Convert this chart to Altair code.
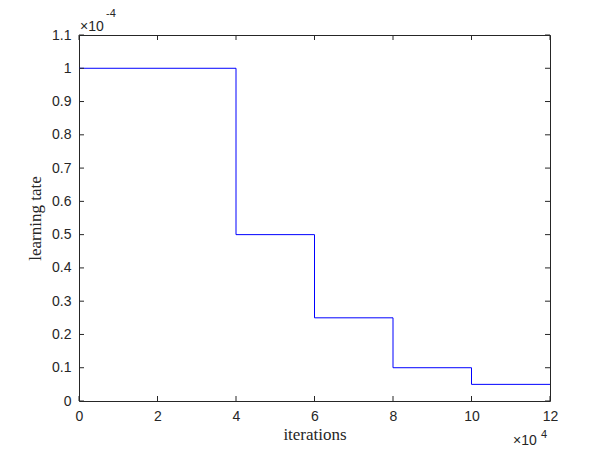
import altair as alt
import pandas as pd

# data (x in units of 1e4 iterations, y in units of 1e-4)
iterations = [0, 4, 6, 8, 10, 12]
learning_rate = [1.0, 0.5, 0.25, 0.1, 0.05, 0.05]
x_ticks = [0, 2, 4, 6, 8, 10, 12]
y_ticks = [0, 0.1, 0.2, 0.3, 0.4, 0.5, 0.6, 0.7, 0.8, 0.9, 1.0, 1.1]
x_title = "iterations"
y_title = "learning tate"
exp_base = "×10"
y_exp = "-4"
x_exp = "4"

W, H = 471, 366
TICK = 5
AX = "#262626"
FONT = "Liberation Sans"
SERIF = "Liberation Serif"

df = pd.DataFrame({"it": iterations, "lr": learning_rate})
xs = alt.Scale(domain=[0, 12], nice=False, zero=False)
ys = alt.Scale(domain=[0, 1.1], nice=False, zero=False)

x_axis = alt.Axis(
    values=x_ticks, tickSize=0, domain=False, grid=False, labelPadding=8,
    labelOverlap=False, labelFlush=False,
    labelFont=FONT, labelFontSize=14, labelColor=AX,
    title=x_title, titleFont=SERIF, titleFontSize=17, titleFontWeight="normal",
    titleColor=AX, titleX=W / 2, titleY=38, titleBaseline="alphabetic", titleAlign="center")
y_axis = alt.Axis(
    values=y_ticks, tickSize=0, domain=False, grid=False, labelPadding=8, format="~g",
    labelOverlap=False, labelFlush=False,
    labelFont=FONT, labelFontSize=14, labelColor=AX,
    title=y_title, titleFont=SERIF, titleFontSize=17, titleFontWeight="normal",
    titleColor=AX, titleX=-39, titleY=H / 2, titleAngle=-90,
    titleBaseline="alphabetic", titleAlign="center")

line = alt.Chart(df).mark_line(interpolate="step-after", color="#0000ff", strokeWidth=1).encode(
    x=alt.X("it:Q", scale=xs, axis=x_axis),
    y=alt.Y("lr:Q", scale=ys, axis=y_axis),
)

xt = pd.DataFrame({"t": x_ticks})
yt = pd.DataFrame({"t": y_ticks})
tick_style = dict(color=AX, strokeWidth=1)
bottom_ticks = alt.Chart(xt).mark_rule(**tick_style).encode(
    x=alt.X("t:Q", scale=xs, axis=x_axis), y=alt.value(H), y2=alt.value(H - TICK))
top_ticks = alt.Chart(xt).mark_rule(**tick_style).encode(
    x=alt.X("t:Q", scale=xs, axis=x_axis), y=alt.value(0), y2=alt.value(TICK))
left_ticks = alt.Chart(yt).mark_rule(**tick_style).encode(
    y=alt.Y("t:Q", scale=ys, axis=y_axis), x=alt.value(0), x2=alt.value(TICK))
right_ticks = alt.Chart(yt).mark_rule(**tick_style).encode(
    y=alt.Y("t:Q", scale=ys, axis=y_axis), x=alt.value(W), x2=alt.value(W - TICK))

one = pd.DataFrame({"k": [0]})
def txt(s, x, y, size):
    return alt.Chart(one).mark_text(
        text=s, align="left", baseline="alphabetic", font=FONT, fontSize=size, color=AX
    ).encode(x=alt.value(x), y=alt.value(y))

top_exp = txt(exp_base, 1, -4, 14) + txt(y_exp, 27, -18, 11)
bot_exp = txt(exp_base, 434, 410, 14) + txt(x_exp, 462, 403, 11)

chart = alt.layer(
    line, bottom_ticks, top_ticks, left_ticks, right_ticks, top_exp, bot_exp
).resolve_scale(x="shared", y="shared").properties(
    width=W, height=H,
    autosize=alt.AutoSizeParams(type="none"),
    padding={"left": 71, "top": 27, "right": 50, "bottom": 47},
    background="white",
).configure_view(stroke=AX, strokeWidth=1)

chart.save("out.html", embed_options={"renderer": "svg", "actions": False})
